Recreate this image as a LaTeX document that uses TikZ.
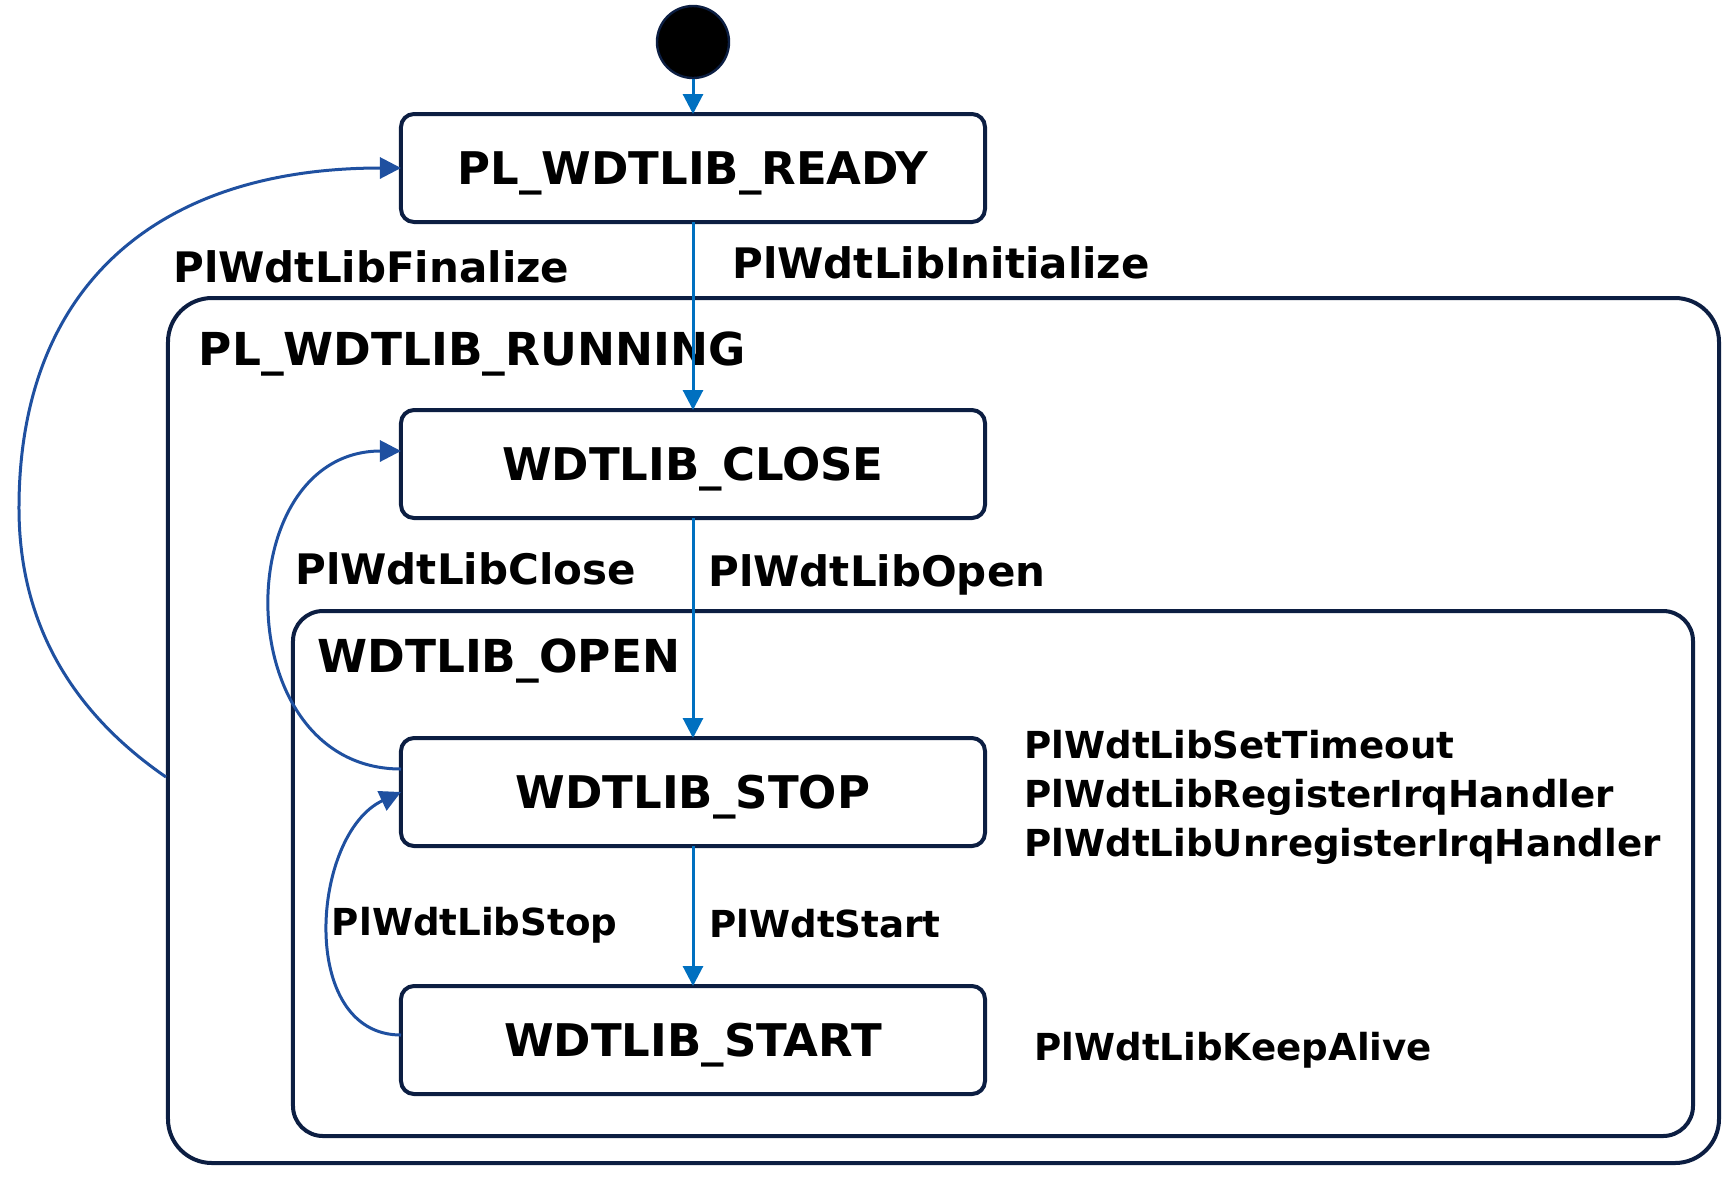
\documentclass[tikz,border=0pt]{standalone}
\usepackage{fontspec}
\setmainfont{DejaVu Sans}
\usetikzlibrary{positioning,arrows.meta,calc}
\definecolor{statenavy}{RGB}{12,30,66}
\definecolor{flowblue}{RGB}{0,112,192}
\definecolor{loopblue}{RGB}{31,80,160}

\begin{document}
\begin{tikzpicture}[
        x=1pt, y=1pt,
        stbox/.style={draw=statenavy, line width=2pt, rounded corners=6.5pt, fill=white, outer sep=0pt, text depth=-2pt, minimum width=292pt, minimum height=54pt, font=\fontsize{22.5pt}{27pt}\selectfont\bfseries},
        region/.style={draw=statenavy, line width=2pt, inner sep=0pt},
        regiontitle/.style={anchor=base west, inner sep=0pt, font=\fontsize{22.7pt}{27pt}\selectfont\bfseries},
        evlabel/.style={anchor=base west, inner sep=0pt, font=\fontsize{21pt}{25pt}\selectfont\bfseries},
        actlabel/.style={anchor=base west, inner sep=0pt, align=left, font=\fontsize{18.6pt}{24.5pt}\selectfont\bfseries},
        trans/.style={-{Triangle[length=10pt,width=10pt]}, line width=1.5pt, draw=flowblue},
        loopback/.style={-{Triangle[length=10.5pt,width=10.5pt]}, line width=1.5pt, draw=loopblue}
    ]
        \useasboundingbox (-346.5,84) rectangle (520,-508.5);

        % nested regions
        \node[region, rounded corners=22pt, minimum width=775.5pt, minimum height=432.5pt] (running) at (125.25,-281.25) {};
        \node[region, rounded corners=15pt, minimum width=700pt, minimum height=262.5pt] (open) at (150,-352.75) {};
        \node[regiontitle] (runningtitle) at (-247.25,-98.75) {PL\_WDTLIB\_RUNNING};
        \node[regiontitle] (opentitle) at (-188,-252.3) {WDTLIB\_OPEN};

        % states
        \node[circle, fill=black, draw=statenavy, line width=1.2pt, minimum size=36pt, inner sep=0pt] (init) at (0,63) {};
        \node[stbox] (ready) at (0,0) {PL\_WDTLIB\_READY};
        \node[stbox, below=94pt of ready] (close) {WDTLIB\_CLOSE};
        \node[stbox, below=110pt of close] (stop) {WDTLIB\_STOP};
        \node[stbox, below=70pt of stop] (start) {WDTLIB\_START};

        % events
        \node[evlabel] (finalizelbl) at (-260,-57.2) {PlWdtLibFinalize};
        \node[evlabel] (initlbl) at (19.5,-55) {PlWdtLibInitialize};
        \node[evlabel] (closelbl) at (-199,-208.3) {PlWdtLibClose};
        \node[evlabel] (openlbl) at (7.5,-209.25) {PlWdtLibOpen};
        \node[actlabel] (stoplbl) at (-180.7,-383.5) {PlWdtLibStop};
        \node[actlabel] (startlbl) at (8,-384.5) {PlWdtStart};
        \node[actlabel] (openacts) at (165.5,-344) {PlWdtLibSetTimeout\\PlWdtLibRegisterIrqHandler\\PlWdtLibUnregisterIrqHandler};
        \node[actlabel] (keepalivelbl) at (170.5,-446) {PlWdtLibKeepAlive};

        \draw[trans] (init) -- (ready);
        \draw[trans] (ready) -- (close);
        \draw[trans] (close) -- (stop);
        \draw[trans] (stop) -- (start);

        \draw[loopback] ($(running.west)+(0,-23.25)$) .. controls +(-45,31) and +(0,-60) .. (-337,-170) .. controls +(0,109) and +(-124,0) .. (ready.west);
        \draw[loopback] ($(stop.west)+(0,11.5)$) .. controls +(-87,0) and +(-87,0) .. ($(close.west)+(0,6.5)$);
        \draw[loopback] ($(start.west)+(0,2.5)$) .. controls +(-52,0) and +(-45,-21) .. (stop.west);
    \end{tikzpicture}
\end{document}
